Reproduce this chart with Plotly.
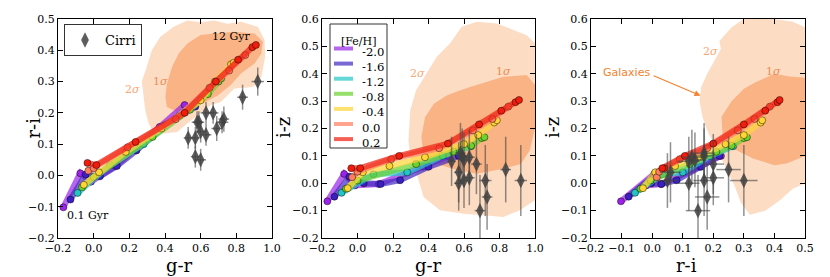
import plotly.graph_objects as go

# ---------------- data ----------------
feh_labels = ["-2.0", "-1.6", "-1.2", "-0.8", "-0.4", "0.0", "0.2"]
marker_colors = ["#9b22e8", "#3a1fc2", "#22c4c4", "#6cd22c", "#ffd633", "#ff7e5e", "#f01c0c"]
line_colors = ["rgba(155,40,232,0.72)", "rgba(70,45,195,0.72)", "rgba(40,200,200,0.72)",
               "rgba(110,210,50,0.72)", "rgba(255,214,60,0.72)", "rgba(255,130,100,0.72)",
               "rgba(240,35,20,0.72)"]

# model tracks (colours at successive ages, 0.1 -> 12 Gyr)
gr_m20 = [-0.17, -0.075, -0.015, 0.12, 0.37, 0.51]
ri_m20 = [-0.102, 0.007, -0.02, 0.03, 0.155, 0.225]
iz_m20 = [-0.066, 0.034, -0.008, -0.003, 0.06, 0.10]

gr_m16 = [-0.13, -0.045, 0.035, 0.13, 0.24, 0.40, 0.57]
ri_m16 = [-0.077, 0.003, -0.003, 0.03, 0.08, 0.16, 0.22]
iz_m16 = [-0.049, 0.024, 0.0, -0.003, 0.011, 0.06, 0.10]

gr_m12 = [-0.09, 0.09, 0.28, 0.48, 0.64]
ri_m12 = [-0.056, 0.033, 0.10, 0.19, 0.265]
iz_m12 = [-0.035, 0.033, 0.04, 0.10, 0.135]

gr_m08 = [-0.065, 0.0, 0.33, 0.54, 0.64, 0.70, 0.715]
ri_m08 = [-0.038, -0.005, 0.123, 0.21, 0.26, 0.30, 0.31]
iz_m08 = [-0.02, 0.01, 0.07, 0.115, 0.137, 0.165, 0.168]

gr_m04 = [-0.055, 0.03, 0.18, 0.38, 0.60, 0.68, 0.77, 0.785]
ri_m04 = [-0.03, 0.01, 0.075, 0.15, 0.24, 0.30, 0.355, 0.36]
iz_m04 = [-0.018, 0.04, 0.063, 0.095, 0.143, 0.176, 0.222, 0.23]

gr_p00 = [-0.03, 0.0, 0.19, 0.46, 0.65, 0.76, 0.85]
ri_p00 = [0.015, 0.023, 0.09, 0.18, 0.28, 0.335, 0.385]
iz_p00 = [0.022, 0.042, 0.088, 0.128, 0.193, 0.235, 0.28]

gr_p02 = [-0.035, 0.015, 0.235, 0.51, 0.685, 0.81, 0.89, 0.91]
ri_p02 = [0.04, 0.033, 0.107, 0.20, 0.30, 0.37, 0.41, 0.417]
iz_p02 = [0.055, 0.055, 0.10, 0.145, 0.215, 0.265, 0.296, 0.304]

# cirri
cirri_gr = [0.92, 0.835, 0.69, 0.73, 0.72, 0.67, 0.63, 0.57, 0.57, 0.60, 0.53, 0.58, 0.60, 0.63, 0.59]
cirri_ri = [0.30, 0.25, 0.15, 0.18, 0.17, 0.20, 0.20, 0.12, 0.06, 0.05, 0.12, 0.17, 0.14, 0.13, 0.17]
cirri_iz = [0.01, 0.05, -0.10, -0.05, 0.01, 0.07, 0.02, 0.00, 0.04, 0.01, 0.08, 0.11, 0.085, 0.095, 0.10]
cirri_gr_err = [0.035, 0.03, 0.03, 0.03, 0.035, 0.03, 0.03, 0.025, 0.025, 0.03, 0.025, 0.03, 0.03, 0.03, 0.03]
cirri_ri_err = [0.045, 0.04, 0.04, 0.04, 0.035, 0.035, 0.035, 0.035, 0.035, 0.035, 0.035, 0.035, 0.035, 0.035, 0.035]
cirri_iz_err = [0.13, 0.12, 0.13, 0.12, 0.13, 0.11, 0.10, 0.10, 0.11, 0.10, 0.09, 0.11, 0.10, 0.10, 0.10]

# galaxy density contours (1 sigma / 2 sigma)
p1_s2_x = [0.449, 0.525, 0.60, 0.675, 0.75, 0.826, 0.921, 0.958, 0.962, 0.94, 0.90, 0.864, 0.789, 0.713, 0.657, 0.60, 0.525, 0.468, 0.392, 0.336, 0.308, 0.289, 0.279, 0.27, 0.298, 0.326, 0.374]
p1_s2_y = [0.475, 0.495, 0.49, 0.495, 0.485, 0.491, 0.475, 0.433, 0.38, 0.315, 0.285, 0.281, 0.278, 0.235, 0.225, 0.20, 0.166, 0.139, 0.134, 0.139, 0.166, 0.209, 0.251, 0.30, 0.347, 0.40, 0.443]
p1_s1_x = [0.525, 0.60, 0.675, 0.789, 0.902, 0.949, 0.94, 0.902, 0.826, 0.77, 0.694, 0.60, 0.525, 0.468, 0.411, 0.402, 0.411, 0.44, 0.477]
p1_s1_y = [0.422, 0.449, 0.454, 0.459, 0.454, 0.427, 0.39, 0.358, 0.326, 0.29, 0.255, 0.228, 0.205, 0.203, 0.219, 0.251, 0.294, 0.347, 0.39]

p2_s2_x = [0.587, 0.672, 0.784, 0.878, 0.953, 1.0, 1.0, 1.0, 0.915, 0.822, 0.709, 0.597, 0.465, 0.372, 0.334, 0.297, 0.287, 0.297, 0.33, 0.39, 0.447, 0.522]
p2_s2_y = [0.572, 0.590, 0.584, 0.560, 0.541, 0.511, 0.182, -0.062, -0.099, -0.123, -0.117, -0.111, -0.099, -0.05, 0.035, 0.096, 0.157, 0.267, 0.34, 0.40, 0.462, 0.511]
p2_s1_x = [0.634, 0.72, 0.822, 0.953, 1.0, 1.0, 0.97, 0.92, 0.80, 0.67, 0.55, 0.45, 0.37, 0.36, 0.38, 0.43, 0.50, 0.56]
p2_s1_y = [0.352, 0.37, 0.389, 0.395, 0.36, 0.20, 0.12, 0.07, 0.05, 0.035, 0.05, 0.07, 0.11, 0.17, 0.24, 0.29, 0.32, 0.335]

p3_s2_x = [0.22, 0.26, 0.30, 0.40, 0.46, 0.50, 0.50, 0.46, 0.42, 0.37, 0.32, 0.29, 0.27, 0.24, 0.21, 0.185, 0.165, 0.155, 0.16, 0.18, 0.205, 0.225]
p3_s2_y = [0.52, 0.57, 0.60, 0.60, 0.59, 0.57, 0.0, -0.02, -0.06, -0.10, -0.115, -0.07, -0.01, 0.06, 0.13, 0.18, 0.24, 0.30, 0.35, 0.40, 0.45, 0.49]
p3_s1_x = [0.34, 0.40, 0.45, 0.50, 0.50, 0.44, 0.40, 0.33, 0.26, 0.23, 0.227, 0.26, 0.30]
p3_s1_y = [0.37, 0.40, 0.39, 0.385, 0.10, 0.072, 0.066, 0.09, 0.13, 0.18, 0.243, 0.30, 0.345]

# ---------------- figure ----------------
tracks = [
    (gr_m20, ri_m20, iz_m20), (gr_m16, ri_m16, iz_m16), (gr_m12, ri_m12, iz_m12),
    (gr_m08, ri_m08, iz_m08), (gr_m04, ri_m04, iz_m04), (gr_p00, ri_p00, iz_p00),
    (gr_p02, ri_p02, iz_p02),
]
S2_FILL = "#fddcc4"
S1_FILL = "#f9b384"
SERIF = "DejaVu Serif"
W, H = 830, 277

fig = go.Figure()

contours = [
    ("x", "y", p1_s2_x, p1_s2_y, p1_s1_x, p1_s1_y),
    ("x2", "y2", p2_s2_x, p2_s2_y, p2_s1_x, p2_s1_y),
    ("x3", "y3", p3_s2_x, p3_s2_y, p3_s1_x, p3_s1_y),
]
for xa, ya, sx2, sy2, sx1, sy1 in contours:
    fig.add_trace(go.Scatter(x=sx2, y=sy2, xaxis=xa, yaxis=ya, fill="toself", fillcolor=S2_FILL,
                             mode="lines", line=dict(width=0, color=S2_FILL), showlegend=False, hoverinfo="skip"))
    fig.add_trace(go.Scatter(x=sx1, y=sy1, xaxis=xa, yaxis=ya, fill="toself", fillcolor=S1_FILL,
                             mode="lines", line=dict(width=0, color=S1_FILL), showlegend=False, hoverinfo="skip"))

panels = [("x", "y", 0, 1), ("x2", "y2", 0, 2), ("x3", "y3", 1, 2)]
for pi, (xa, ya, ix, iy) in enumerate(panels):
    for k, tr in enumerate(tracks):
        fig.add_trace(go.Scatter(x=tr[ix], y=tr[iy], xaxis=xa, yaxis=ya, mode="lines",
                                 line=dict(color=line_colors[k], width=6),
                                 name=feh_labels[k], showlegend=False))
        fig.add_trace(go.Scatter(x=tr[ix], y=tr[iy], xaxis=xa, yaxis=ya, mode="markers",
                                 marker=dict(color=marker_colors[k], size=7,
                                             line=dict(color="rgba(0,0,0,0.75)", width=0.6)),
                                 showlegend=False))

cirri_cols = [cirri_gr, cirri_ri, cirri_iz]
cirri_errs = [cirri_gr_err, cirri_ri_err, cirri_iz_err]
for pi, (xa, ya, ix, iy) in enumerate(panels):
    fig.add_trace(go.Scatter(
        x=cirri_cols[ix], y=cirri_cols[iy], xaxis=xa, yaxis=ya, mode="markers", name="Cirri",
        marker=dict(symbol="diamond-tall", size=11, color="rgba(65,65,65,0.85)", line=dict(width=0)),
        error_x=dict(type="data", array=cirri_errs[ix], color="rgba(70,70,70,0.6)", thickness=1.5, width=0),
        error_y=dict(type="data", array=cirri_errs[iy], color="rgba(70,70,70,0.6)", thickness=1.5, width=0),
        showlegend=(pi == 0)))


def dom(a, b):
    return [a / W, b / W]


ydom = [1 - 238 / H, 1 - 19 / H]

axis_common = dict(showgrid=False, zeroline=False, showline=True, linecolor="black", linewidth=1,
                   mirror="ticks", ticks="inside", ticklen=5, tickcolor="black", automargin=False,
                   tickfont=dict(family=SERIF, size=11, color="black"), tickformat=".1f")

fig.update_layout(
    width=W, height=H, margin=dict(l=0, r=0, t=0, b=0, autoexpand=False),
    paper_bgcolor="white", plot_bgcolor="white",
    xaxis=dict(domain=dom(58, 272), range=[-0.2, 1.0], dtick=0.2, tick0=-0.2, anchor="y", **axis_common),
    yaxis=dict(domain=ydom, range=[-0.2, 0.5], dtick=0.1, tick0=-0.2, anchor="x", **axis_common),
    xaxis2=dict(domain=dom(322, 535), range=[-0.2, 1.0], dtick=0.2, tick0=-0.2, anchor="y2", **axis_common),
    yaxis2=dict(domain=ydom, range=[-0.2, 0.6], dtick=0.1, tick0=-0.2, anchor="x2", **axis_common),
    xaxis3=dict(domain=dom(591, 805), range=[-0.2, 0.5], dtick=0.1, tick0=-0.2, anchor="y3", **axis_common),
    yaxis3=dict(domain=ydom, range=[-0.2, 0.6], dtick=0.1, tick0=-0.2, anchor="x3", **axis_common),
    legend=dict(x=64 / W, y=1 - 24 / H, xanchor="left", yanchor="top", bgcolor="white",
                bordercolor="#333333", borderwidth=1, font=dict(family=SERIF, size=13, color="black"),
                itemwidth=30),
)

# [Fe/H] legend box (panel 2), built from the track styles
LX0, LX1, LY0, LY1 = 330, 387, 24, 148
ROW0, ROWSTEP = 48.5, 15.1
fig.add_shape(type="rect", xref="paper", yref="paper", x0=LX0 / W, x1=LX1 / W, y0=1 - LY1 / H, y1=1 - LY0 / H,
              line=dict(color="#333333", width=1), fillcolor="white", layer="above")
fig.add_annotation(xref="paper", yref="paper", x=(LX0 + LX1) / 2 / W, y=1 - 33 / H, text="[Fe/H]",
                   showarrow=False, font=dict(family=SERIF, size=11, color="black"))
for k, lab in enumerate(feh_labels):
    yy = 1 - (ROW0 + k * ROWSTEP) / H
    fig.add_shape(type="line", xref="paper", yref="paper", x0=334 / W, x1=353 / W, y0=yy, y1=yy,
                  line=dict(color=line_colors[k], width=4), layer="above")
# one multi-line label block: line height = 1.3 * font size = row step
fig.add_annotation(xref="paper", yref="paper", x=361 / W,
                   y=1 - (ROW0 + 3 * ROWSTEP + 4) / H, text="<br>".join(feh_labels),
                   xanchor="left", yanchor="middle", align="left", showarrow=False, borderpad=0,
                   font=dict(family=SERIF, size=ROWSTEP / 1.3, color="black"))

o2 = "#f7a877"
o1 = "#ec8c52"
title_font = dict(family=SERIF, size=18, color="black")
ann = [
    # axis titles
    dict(xref="paper", yref="paper", x=165 / W, y=0, yanchor="bottom", text="g-r", font=title_font, borderpad=0),
    dict(xref="paper", yref="paper", x=428 / W, y=0, yanchor="bottom", text="g-r", font=title_font, borderpad=0),
    dict(xref="paper", yref="paper", x=698 / W, y=0, yanchor="bottom", text="r-i", font=title_font, borderpad=0),
    dict(xref="paper", yref="paper", x=20 / W, y=1 - 128 / H, text="r-i", font=title_font, textangle=-90),
    dict(xref="paper", yref="paper", x=283 / W, y=1 - 128 / H, text="i-z", font=title_font, textangle=-90),
    dict(xref="paper", yref="paper", x=552 / W, y=1 - 128 / H, text="i-z", font=title_font, textangle=-90),
    # in-panel labels
    dict(xref="x", yref="y", x=0.77, y=0.443, text="12 Gyr", font=dict(family=SERIF, size=11, color="black")),
    dict(xref="x", yref="y", x=-0.03, y=-0.128, text="0.1 Gyr", font=dict(family=SERIF, size=11, color="black")),
    dict(xref="x", yref="y", x=0.22, y=0.275, text="2<i>σ</i>", font=dict(family=SERIF, size=11, color=o2)),
    dict(xref="x", yref="y", x=0.375, y=0.30, text="1<i>σ</i>", font=dict(family=SERIF, size=11, color=o1)),
    dict(xref="x2", yref="y2", x=0.34, y=0.40, text="2<i>σ</i>", font=dict(family=SERIF, size=11, color=o2)),
    dict(xref="x2", yref="y2", x=0.822, y=0.41, text="1<i>σ</i>", font=dict(family=SERIF, size=11, color=o1)),
    dict(xref="x3", yref="y3", x=0.19, y=0.48, text="2<i>σ</i>", font=dict(family=SERIF, size=11, color=o2)),
    dict(xref="x3", yref="y3", x=0.397, y=0.41, text="1<i>σ</i>", font=dict(family=SERIF, size=11, color=o1)),
    dict(xref="x3", yref="y3", x=-0.085, y=0.404, text="Galaxies", font=dict(family="DejaVu Sans", size=11, color="#f5822f")),
    dict(xref="x3", yref="y3", x=0.158, y=0.32, ax=0.0, ay=0.395, axref="x3", ayref="y3", text="",
         showarrow=True, arrowhead=2, arrowsize=1, arrowwidth=1.2, arrowcolor="#f5822f"),
]
for a in ann:
    a.setdefault("showarrow", False)
    fig.add_annotation(**a)

fig.write_html("out.html", config={"displayModeBar": False},
               post_script="document.body.style.margin='0px';document.body.style.overflow='hidden';")
